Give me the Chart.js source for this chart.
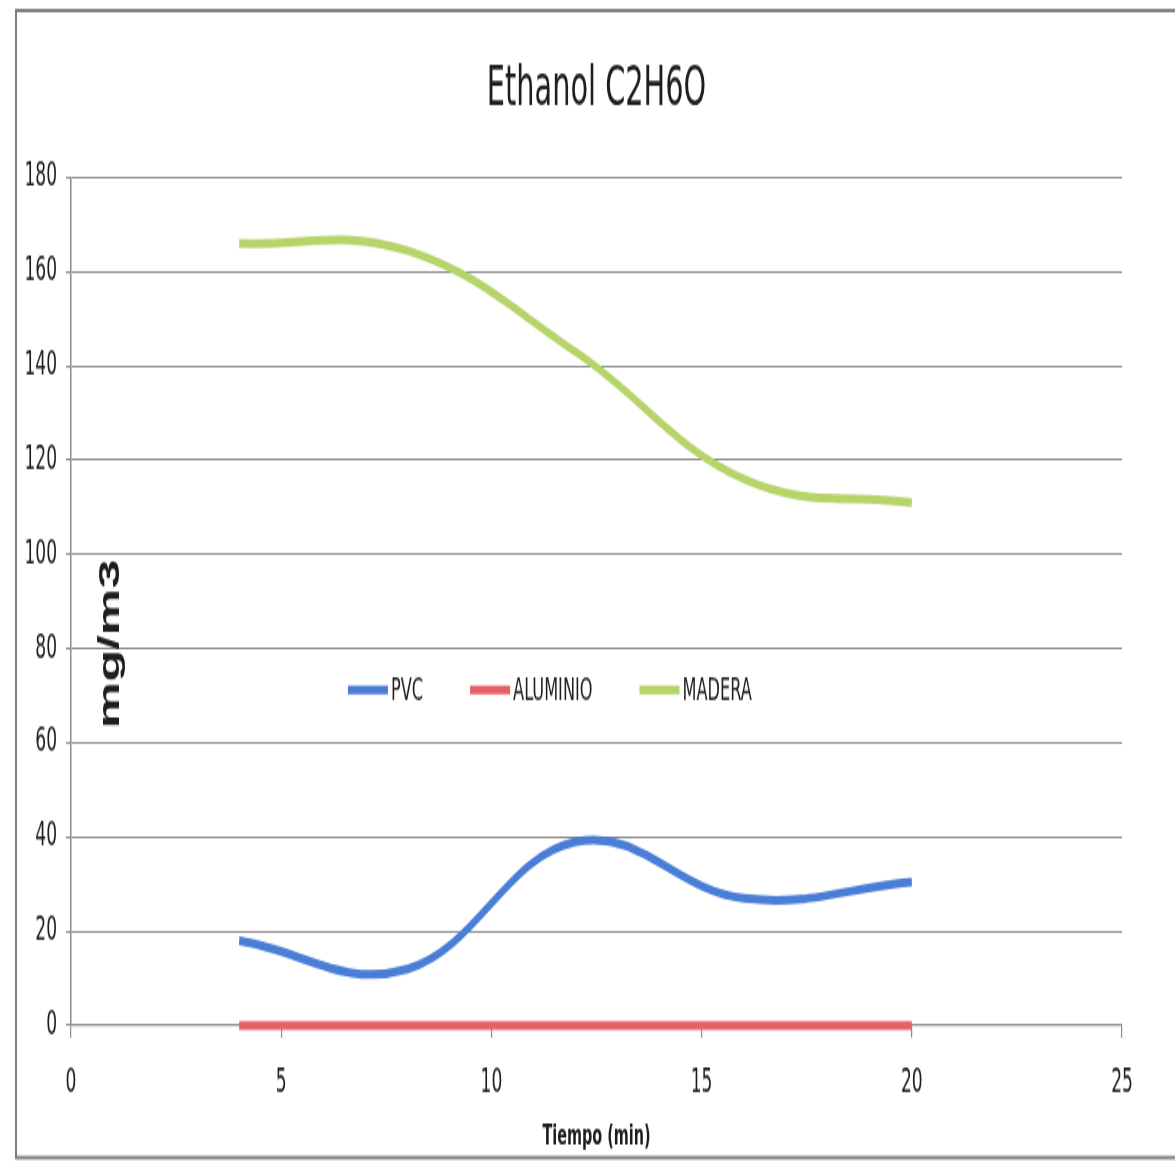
<!DOCTYPE html>
<html>
<head>
<meta charset="utf-8">
<title>Ethanol C2H6O</title>
<script src="https://cdn.jsdelivr.net/npm/chart.js@4.4.1/dist/chart.umd.min.js"></script>
<style>
  html, body { margin: 0; padding: 0; background: #fff; overflow: hidden; }
  #wrap { width: 1175px; height: 1162px; position: relative; }
  /* the scanned original is stretched vertically, so the canvas is too */
  #chart { transform: scaleY(1.75); transform-origin: 0 0; display: block; }
</style>
</head>
<body>
<div id="wrap">
  <canvas id="chart" width="1175" height="664"></canvas>
</div>
<script>
const timeMin = [4, 8, 12, 16, 20];
const pvc = [18, 12, 39, 27, 30.5];
const aluminio = [0, 0, 0, 0, 0];
const madera = [166, 164.5, 143, 116, 111];

const seriesNames = ['PVC', 'ALUMINIO', 'MADERA'];
const seriesColors = ['#4a7ed6', '#e75f69', '#b5d46a'];

const xMin = 0, xMax = 25, xStep = 5;
const yMin = 0, yMax = 180, yStep = 20;

const narrow = "'Liberation Sans Narrow', 'DejaVu Sans Condensed', 'Liberation Sans', sans-serif";
const gridColor = '#8c8c8c';
const textColor = '#1e1e1e';

const toPoints = vals => vals.map((v, i) => ({ x: timeMin[i], y: v }));

// white background + the scanned frame
const framePlugin = {
  id: 'frame',
  beforeDraw(chart) {
    const ctx = chart.ctx;
    ctx.save();
    ctx.fillStyle = '#fff';
    ctx.fillRect(0, 0, chart.width, chart.height);
    ctx.strokeStyle = '#7d7d7d';
    ctx.lineWidth = 2;
    ctx.beginPath();
    ctx.moveTo(chart.width + 2, 6);
    ctx.lineTo(16, 6);
    ctx.lineTo(16, 661.5);
    ctx.lineTo(chart.width + 2, 661.5);
    ctx.stroke();
    ctx.restore();
  }
};

// legend and y title sit inside the plot in the original
const insidePlugin = {
  id: 'inside',
  afterDraw(chart) {
    const ctx = chart.ctx;
    const area = chart.chartArea;
    ctx.save();

    // legend
    let x = area.left + area.width * 0.2635;
    const y = area.top + area.height * 0.6045;
    ctx.font = '18px ' + narrow;
    ctx.textBaseline = 'middle';
    ctx.textAlign = 'left';
    chart.data.datasets.forEach(ds => {
      ctx.strokeStyle = ds.borderColor;
      ctx.lineWidth = 5;
      ctx.lineCap = 'butt';
      ctx.beginPath();
      ctx.moveTo(x, y);
      ctx.lineTo(x + 40, y);
      ctx.stroke();
      ctx.fillStyle = textColor;
      ctx.fillText(ds.label, x + 43, y + 1);
      x += 43 + ctx.measureText(ds.label).width + 47;
    });

    // y axis title
    ctx.translate(area.left + 40, area.top + area.height * 0.55);
    ctx.rotate(-Math.PI / 2);
    ctx.font = 'bold 30px "Liberation Sans", Arial, sans-serif';
    ctx.textAlign = 'center';
    ctx.textBaseline = 'middle';
    ctx.fillStyle = textColor;
    ctx.fillText('mg/m3', 0, 0);
    ctx.restore();
  }
};

const ctx = document.getElementById('chart').getContext('2d');

new Chart(ctx, {
  type: 'line',
  data: {
    datasets: [pvc, aluminio, madera].map((vals, i) => ({
      label: seriesNames[i],
      data: toPoints(vals),
      borderColor: seriesColors[i],
      backgroundColor: seriesColors[i],
      borderWidth: 5,
      borderCapStyle: 'butt',
      pointRadius: 0,
      fill: false,
      clip: false,
      tension: 0.4,
    })),
  },
  options: {
    responsive: false,
    animation: false,
    layout: { padding: { left: 0, right: 53, top: 0, bottom: 0 } },
    plugins: {
      legend: { display: false },
      tooltip: { enabled: false },
      title: {
        display: true,
        text: 'Ethanol C2H6O',
        fullSize: false,
        color: textColor,
        font: { family: narrow, size: 32, weight: 'normal' },
        padding: { top: 32, bottom: 31 },
      },
    },
    scales: {
      x: {
        type: 'linear',
        min: xMin,
        max: xMax,
        afterFit: scale => { scale.height = 78; },
        grid: {
          drawOnChartArea: false,
          drawTicks: true,
          tickLength: 7,
          color: gridColor,
          lineWidth: 1.2,
        },
        border: { display: true, color: gridColor, width: 1.2 },
        ticks: {
          stepSize: xStep,
          padding: 15,
          color: textColor,
          font: { family: narrow, size: 19 },
          maxRotation: 0,
        },
        title: {
          display: true,
          text: 'Tiempo (min)',
          color: textColor,
          font: { family: narrow, size: 16, weight: 'bold' },
          padding: { top: 0, bottom: 5 },
        },
      },
      y: {
        min: yMin,
        max: yMax,
        afterFit: scale => { scale.width = 71; },
        grid: {
          color: gridColor,
          lineWidth: 1.1,
          drawTicks: true,
          tickLength: 5,
        },
        border: { display: true, color: gridColor, width: 1.5 },
        ticks: {
          stepSize: yStep,
          padding: 9,
          color: textColor,
          font: { family: narrow, size: 19 },
        },
      },
    },
  },
  plugins: [framePlugin, insidePlugin],
});
</script>
</body>
</html>
